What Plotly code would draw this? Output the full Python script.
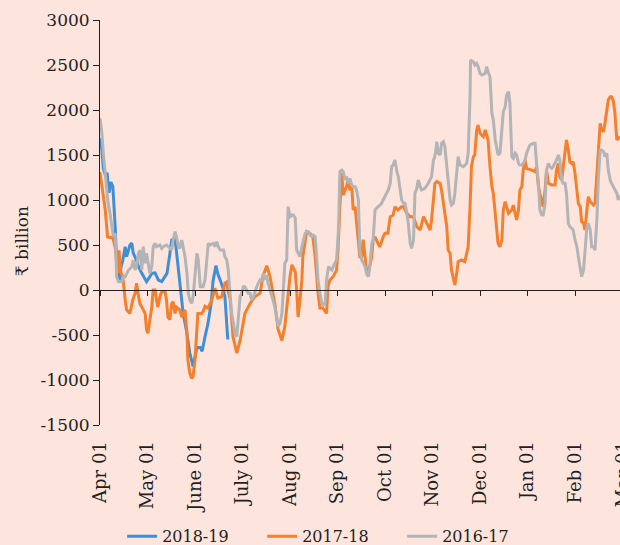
import plotly.graph_objects as go

# Month tick labels (x axis: months elapsed since Apr 01)
month_labels = ["Apr 01", "May 01", "June 01", "July 01", "Aug 01", "Sep 01",
                "Oct 01", "Nov 01", "Dec 01", "Jan 01", "Feb 01", "Mar 01"]
month_ticks = list(range(len(month_labels)))

y_tick_vals = [-1500, -1000, -500, 0, 500, 1000, 1500, 2000, 2500, 3000]
y_tick_text = ["-1500", "-1000", "-500", "0", "500", "1000", "1500", "2000", "2500", "3000"]

series_names = ["2018-19", "2017-18", "2016-17"]

# 2018-19 (₹ billion)
x_2018_19 = [0.00, 0.04, 0.07, 0.11, 0.15, 0.19, 0.23, 0.27, 0.32, 0.36, 0.40, 0.44, 0.48, 0.53,
             0.56, 0.63, 0.67, 0.70, 0.77, 0.81, 0.88, 0.95, 0.98, 1.05, 1.09, 1.16, 1.23, 1.30,
             1.37, 1.41, 1.47, 1.51, 1.58, 1.62, 1.68, 1.75, 1.83, 1.89, 1.96, 2.04, 2.11, 2.15,
             2.21, 2.27, 2.34, 2.38, 2.44, 2.48, 2.53, 2.59, 2.63, 2.69]
y_2018_19 = [1690, 1555, 1350, 1280, 1300, 1080, 1200, 1150, 700, 190, 80, 250, 330, 480,
             370, 500, 520, 410, 330, 260, 185, 111, 93, 148, 185, 190, 110, 93,
             148, 185, 400, 556, 574, 370, 30, -260, -480, -700, -850, -640, -640, -680,
             -520, -380, -150, 100, 270, 180, 110, 20, -75, -550]

# 2017-18 (₹ billion)
x_2017_18 = [0.00, 0.04, 0.11, 0.16, 0.25, 0.27, 0.33, 0.37, 0.40, 0.44, 0.48, 0.53, 0.56, 0.63,
             0.69, 0.74, 0.77, 0.80, 0.84, 0.91, 0.95, 0.98, 1.01, 1.05, 1.09, 1.12, 1.16, 1.19,
             1.22, 1.26, 1.30, 1.37, 1.40, 1.43, 1.47, 1.51, 1.54, 1.58, 1.61, 1.68, 1.72, 1.79,
             1.83, 1.85, 1.89, 1.93, 1.96, 2.00, 2.04, 2.06, 2.14, 2.17, 2.21, 2.27, 2.35, 2.42,
             2.48, 2.56, 2.63, 2.67, 2.69, 2.74, 2.80, 2.88, 2.95, 3.05, 3.16, 3.26, 3.37, 3.43,
             3.51, 3.58, 3.64, 3.68, 3.75, 3.83, 3.89, 3.93, 4.00, 4.04, 4.06, 4.11, 4.14, 4.17,
             4.21, 4.25, 4.27, 4.32, 4.35, 4.42, 4.48, 4.53, 4.56, 4.59, 4.63, 4.69, 4.77, 4.80,
             4.84, 4.91, 4.98, 5.01, 5.05, 5.09, 5.12, 5.16, 5.19, 5.22, 5.26, 5.30, 5.33, 5.37,
             5.40, 5.43, 5.47, 5.51, 5.54, 5.58, 5.61, 5.64, 5.72, 5.75, 5.79, 5.85, 5.89, 5.96,
             6.00, 6.06, 6.11, 6.17, 6.21, 6.27, 6.35, 6.39, 6.46, 6.53, 6.60, 6.67, 6.74, 6.81,
             6.88, 6.95, 6.98, 7.02, 7.05, 7.09, 7.16, 7.19, 7.23, 7.26, 7.30, 7.33, 7.37, 7.40,
             7.44, 7.47, 7.51, 7.54, 7.61, 7.68, 7.72, 7.75, 7.79, 7.82, 7.86, 7.89, 7.93, 7.96,
             8.00, 8.07, 8.11, 8.14, 8.17, 8.21, 8.25, 8.28, 8.32, 8.35, 8.38, 8.42, 8.46, 8.49,
             8.53, 8.56, 8.60, 8.67, 8.70, 8.74, 8.77, 8.81, 8.84, 8.88, 8.91, 8.95, 8.98, 9.09,
             9.16, 9.19, 9.23, 9.26, 9.30, 9.33, 9.37, 9.40, 9.44, 9.51, 9.58, 9.61, 9.65, 9.68,
             9.72, 9.75, 9.79, 9.82, 9.86, 9.89, 9.93, 9.96, 10.00, 10.04, 10.07, 10.11, 10.14,
             10.18, 10.21, 10.25, 10.28, 10.32, 10.35, 10.39, 10.42, 10.46, 10.49, 10.53, 10.56,
             10.60, 10.63, 10.67, 10.70, 10.74, 10.77, 10.81, 10.84, 10.88, 10.91, 10.95]
y_2017_18 = [1310, 1150, 890, 590, 580, 590, 440, 190, 440, 190, 150, -110, -220, -260,
             -110, -35, 75, -35, -150, -220, -260, -440, -480, -330, -190, 0, 0, -110,
             -190, -75, -20, -20, -110, -300, -330, -150, -130, -260, -190, -220, -300, -220,
             -480, -780, -920, -980, -960, -780, -480, -260, -260, -240, -180, -200, -120, 20,
             -90, -75, 75, 90, 0, -100, -520, -700, -560, -260, -150, -75, -35, 150,
             270, 150, -35, -150, -440, -560, -410, -190, 150, 280, 250, 200, 0, -300,
             -110, 110, 370, 560, 650, 630, 590, 370, 150, -35, -200, -200, -260, 37,
             110, 150, 220, 440, 925, 1300, 1055, 1110, 1150, 1220, 1110, 1150, 890, 925,
             780, 590, 370, 370, 560, 370, 220, 170, 370, 560, 590, 520, 480, 590,
             630, 630, 815, 830, 925, 890, 925, 925, 852, 815, 815, 703, 667, 815,
             741, 667, 778, 1000, 1185, 1204, 1185, 1111, 963, 815, 703, 444, 407, 222,
             111, 56, 185, 315, 333, 315, 407, 481, 926, 1370, 1481, 1500, 1778, 1833,
             1741, 1704, 1778, 1704, 1667, 1370, 1148, 1074, 815, 630, 519, 481, 556, 889,
             981, 926, 852, 889, 944, 852, 778, 889, 1111, 1148, 1333, 1444, 1352, 1333,
             1315, 1370, 1148, 1074, 1000, 926, 1111, 1333, 1185, 1167, 1167, 1333, 1407, 1259,
             1222, 1370, 1518, 1667, 1556, 1426, 1407, 1426, 1296, 1111, 963, 926, 759,
             741, 667, 889, 1037, 981, 963, 944, 963, 1259, 1556, 1852, 1778,
             1759, 1852, 2037, 2111, 2148, 2148, 2093, 1963, 1667, 1685, 1704]

# 2016-17 (₹ billion)
x_2016_17 = [0.00, 0.04, 0.07, 0.11, 0.14, 0.17, 0.21, 0.25, 0.28, 0.32, 0.35, 0.39, 0.46, 0.49,
             0.53, 0.60, 0.67, 0.70, 0.74, 0.77, 0.81, 0.84, 0.88, 0.91, 0.95, 0.98, 1.02, 1.05,
             1.09, 1.12, 1.16, 1.19, 1.26, 1.30, 1.33, 1.40, 1.44, 1.47, 1.51, 1.54, 1.58, 1.61,
             1.65, 1.68, 1.72, 1.75, 1.79, 1.83, 1.86, 1.89, 1.93, 1.96, 2.00, 2.04, 2.07, 2.11,
             2.17, 2.21, 2.28, 2.32, 2.39, 2.42, 2.46, 2.49, 2.53, 2.60, 2.63, 2.67, 2.70, 2.74,
             2.77, 2.81, 2.84, 2.88, 2.91, 2.95, 2.98, 3.02, 3.05, 3.09, 3.12, 3.16, 3.19, 3.23,
             3.26, 3.30, 3.33, 3.37, 3.40, 3.44, 3.47, 3.51, 3.54, 3.58, 3.61, 3.68, 3.72, 3.75,
             3.79, 3.83, 3.86, 3.89, 3.93, 3.96, 4.00, 4.04, 4.07, 4.11, 4.14, 4.17, 4.21, 4.25,
             4.28, 4.32, 4.35, 4.39, 4.42, 4.46, 4.49, 4.53, 4.56, 4.59, 4.63, 4.67, 4.70, 4.74,
             4.77, 4.81, 4.84, 4.88, 4.91, 4.95, 4.98, 5.02, 5.05, 5.09, 5.12, 5.16, 5.19, 5.23,
             5.26, 5.30, 5.33, 5.37, 5.40, 5.44, 5.47, 5.51, 5.54, 5.58, 5.61, 5.65, 5.68, 5.72,
             5.75, 5.79, 5.82, 5.86, 5.93, 5.96, 6.00, 6.07, 6.11, 6.14, 6.17, 6.21, 6.25, 6.28,
             6.32, 6.35, 6.39, 6.42, 6.46, 6.49, 6.53, 6.56, 6.60, 6.63, 6.67, 6.70, 6.74, 6.77,
             6.84, 6.91, 6.98, 7.02, 7.05, 7.09, 7.12, 7.16, 7.19, 7.23, 7.26, 7.30, 7.33, 7.37,
             7.40, 7.44, 7.47, 7.51, 7.54, 7.58, 7.65, 7.72, 7.75, 7.79, 7.80, 7.86, 7.89, 7.93,
             7.96, 8.00, 8.04, 8.11, 8.14, 8.17, 8.21, 8.25, 8.28, 8.32, 8.35, 8.38, 8.42, 8.46,
             8.49, 8.53, 8.56, 8.60, 8.63, 8.67, 8.70, 8.74, 8.77, 8.81, 8.84, 8.88, 8.91, 8.95,
             8.98, 9.02, 9.05, 9.12, 9.16, 9.19, 9.23, 9.26, 9.30, 9.33, 9.37, 9.40, 9.44, 9.47,
             9.51, 9.54, 9.58, 9.61, 9.65, 9.68, 9.72, 9.75, 9.79, 9.82, 9.86, 9.89, 9.93, 9.96,
             10.00, 10.04, 10.07, 10.11, 10.14, 10.18, 10.21, 10.25, 10.28, 10.32, 10.35, 10.39,
             10.42, 10.46, 10.49, 10.53, 10.56, 10.60, 10.63, 10.67, 10.70, 10.74, 10.77, 10.81,
             10.84, 10.88, 10.91, 10.95]
y_2016_17 = [1907, 1740, 1519, 1296, 1074, 963, 852, 667, 593, 630, 148, 93, 93, 148,
             148, 222, 259, 333, 222, 259, 407, 444, 222, 481, 296, 407, 296, 185,
             259, 481, 519, 481, 500, 463, 481, 500, 481, 463, 444, 556, 648, 593,
             481, 463, 556, 481, 370, 185, -37, -111, -148, -74, 222, 407, 333, 37,
             37, 111, 519, 500, 519, 481, 537, 481, 444, 444, 370, 333, 222, -74,
             -259, -370, -481, -519, -296, -74, -37, 37, 37, 0, -37, -37, -111, -74,
             -19, 37, 74, 111, 93, 185, 130, 148, 74, 0, -37, -185, -296, -407,
             -370, -259, 0, 296, 333, 926, 815, 833, 833, 800, 444, 407, 370, 481,
             556, 630, 648, 648, 611, 593, 611, 593, 370, 111, -37, -148, -167, -148,
             111, 259, 241, 222, 259, 296, 333, 667, 1315, 1333, 1315, 1222, 1259, 1185,
             1241, 1167, 1148, 1148, 1111, 1000, 444, 333, 296, 259, 185, 148, 259, 519,
             556, 889, 907, 926, 963, 1000, 1037, 1111, 1185, 1370, 1389, 1444, 1315, 1259,
             1111, 1000, 963, 963, 852, 741, 519, 463, 556, 1074, 1130, 1222, 1148, 1111,
             1130, 1185, 1259, 1444, 1481, 1648, 1519, 1500, 1630, 1648, 1593, 1370, 1148, 1000,
             944, 963, 1074, 1370, 1481, 1389, 1370, 1407, 1519, 2148, 2556, 2537, 2500, 2519,
             2481, 2407, 2389, 2407, 2481, 2426, 2370, 1963, 1889, 1667, 1556, 1500, 1519, 1852,
             1981, 2037, 2167, 2204, 2074, 1481, 1463, 1519, 1500, 1407, 1389, 1389, 1407, 1444,
             1519, 1574, 1611, 1630, 1630, 1407, 1185, 889, 833, 833, 963, 1333, 1407, 1370,
             1352, 1370, 1407, 1444, 1500, 1444, 1222, 1185, 1185, 1074, 741, 704, 685, 667,
             556, 481, 370, 222, 148, 222, 444, 704, 741, 667, 481, 481,
             444, 778, 1222, 1556, 1556, 1537, 1481, 1519, 1333, 1222, 1185, 1148,
             1111, 1074, 1000, 1050]

colors = ["#3F8FD6", "#F47F2C", "#B2B4B6"]
bg = "#FDE5DE"
ink = "#231F20"
font_family = "DejaVu Serif"

x_end = 10.947  # visible extent of the month axis (Mar 01 falls just past the edge)

fig = go.Figure()
for name, xs, ys, col in zip(series_names,
                             [x_2018_19, x_2017_18, x_2016_17],
                             [y_2018_19, y_2017_18, y_2016_17],
                             colors):
    fig.add_trace(go.Scatter(x=xs, y=ys, mode="lines", name=name,
                             line=dict(color=col, width=3)))

# helper trace for the zero-line axis carrying the tick marks
fig.add_trace(go.Scatter(x=[None], y=[None], xaxis="x2", showlegend=False,
                         hoverinfo="skip", mode="lines"))

fig.update_layout(
    width=620, height=545,
    template="none",
    paper_bgcolor=bg, plot_bgcolor=bg,
    margin=dict(l=100, r=0, t=20, b=120, autoexpand=False),
    font=dict(family=font_family, color=ink, size=17),
    showlegend=True,
    legend=dict(orientation="h", xref="container", x=0.197, xanchor="left",
                yref="container", y=0.016, yanchor="middle", entrywidth=95,
                font=dict(size=16, family=font_family, color=ink),
                bgcolor="rgba(0,0,0,0)", traceorder="normal"),
    xaxis=dict(range=[0, x_end], tickvals=month_ticks, ticktext=month_labels,
               tickangle=-90, showgrid=False, zeroline=False, showline=False,
               ticks="outside", ticklen=8, tickcolor="rgba(0,0,0,0)",
               automargin=False, tickfont=dict(size=18)),
    xaxis2=dict(range=[0, x_end], overlaying="x", anchor="free", position=1/3,
                tickvals=month_ticks, showticklabels=False, showgrid=False,
                zeroline=False, showline=True, linecolor=ink, linewidth=1,
                ticks="outside", ticklen=5, tickcolor=ink, automargin=False),
    yaxis=dict(range=[-1500, 3000], tickvals=y_tick_vals, ticktext=y_tick_text,
               showgrid=False, zeroline=False,
               showline=True, linecolor=ink, linewidth=1, ticks="outside", ticklen=6,
               tickcolor=ink, automargin=False, tickfont=dict(size=17)),
    annotations=[
        dict(text="₹ billion", textangle=-90, xref="paper", yref="paper",
             x=-0.15, y=0.454, showarrow=False, xanchor="center", yanchor="middle",
             font=dict(size=17, family=font_family, color=ink)),
        dict(text=month_labels[-1], textangle=-90, xref="paper", yref="paper",
             x=month_ticks[-1] / x_end, y=-0.037, showarrow=False,
             xanchor="center", yanchor="top",
             font=dict(size=18, family=font_family, color=ink)),
    ],
)

fig.write_html("out.html", config={"displayModeBar": False},
               post_script="document.body.style.margin='0px';")
